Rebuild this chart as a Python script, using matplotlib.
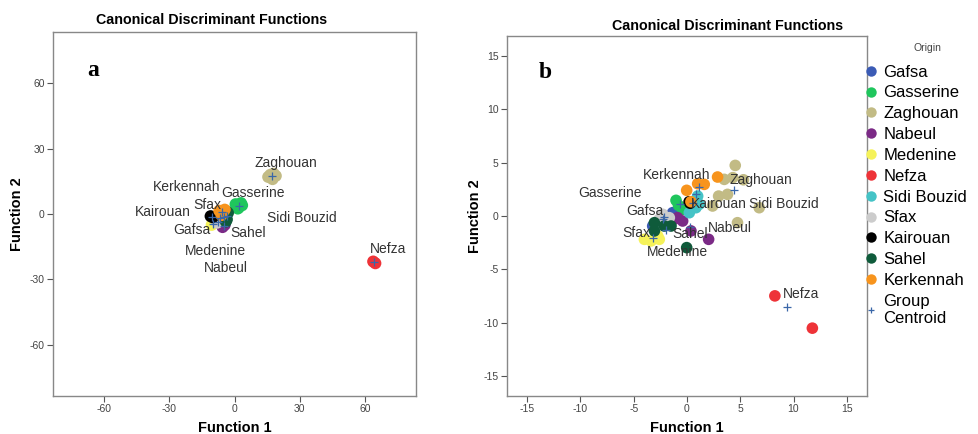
import matplotlib
matplotlib.use("Agg")
from matplotlib import pyplot as plt
from matplotlib.lines import Line2D

plt.rcParams['font.family'] = ['Liberation Sans', 'DejaVu Sans']
plt.rcParams['axes.unicode_minus'] = False

groups = ['Gafsa', 'Gasserine', 'Zaghouan', 'Nabeul', 'Medenine', 'Nefza',
          'Sidi Bouzid', 'Sfax', 'Kairouan', 'Sahel', 'Kerkennah']
colors = ['#3b5bb5', '#1fc65d', '#c2bb85', '#7b2a86', '#f5f25a', '#ee3338',
          '#45c3c6', '#cccccc', '#000000', '#0f5b3b', '#f7941d']
centroid_color = '#3a67a8'

# panel a: scores (function 1, function 2) per origin
a_x = {
    'Gafsa': [-7, -6],
    'Gasserine': [0.5, 2.0, 3.5, 1.5, 3.0],
    'Zaghouan': [15.5, 18.0, 17.5, 19.0, 16.5],
    'Nabeul': [-5.5, -4.5],
    'Medenine': [-10.5, -9.5],
    'Nefza': [63.8, 64.8],
    'Sidi Bouzid': [-6, -4],
    'Sfax': [-8, -7],
    'Kairouan': [-11.0, -10.0],
    'Sahel': [-3.5, -3.0, -4.0, -3.5],
    'Kerkennah': [-7.0, -5.5, -6.0, -4.5],
}
a_y = {
    'Gafsa': [-3, -1],
    'Gasserine': [4.5, 3.0, 4.0, 2.5, 5.0],
    'Zaghouan': [17.0, 18.5, 16.0, 17.5, 18.0],
    'Nabeul': [-6.0, -5.0],
    'Medenine': [-5.0, -4.0],
    'Nefza': [-21.8, -22.6],
    'Sidi Bouzid': [-2, -1],
    'Sfax': [-4, -3],
    'Kairouan': [-1.0, -1.5],
    'Sahel': [-2.5, 0.5, -3.5, 1.0],
    'Kerkennah': [1.5, 0.5, -0.5, 2.0],
}
a_cx = [-6.5, 2.0, 17.3, -5.0, -10.0, 64.3, -5.0, -7.5, -10.5, -3.5, -5.8]
a_cy = [-2.0, 3.8, 17.6, -5.5, -4.5, -22.2, -1.5, -3.5, -1.2, -1.1, 0.9]
a_lab_x = [-28.3, -6.3, 9.4, -14.0, -22.8, 62.3, 14.8, -19.0, -45.7, -1.7, -37.6]
a_lab_y = [-7.3, 9.8, 23.5, -24.9, -17.0, -16.2, -2.0, 4.1, 0.8, -8.6, 12.2]

# panel b
b_x = {
    'Gafsa': [-1.35, -3.22, -2.0],
    'Gasserine': [-1.03, -0.41, -0.8, 0.05],
    'Zaghouan': [4.53, 3.5, 4.3, 5.3, 2.97, 3.8, 2.4, 4.74, 6.78],
    'Nabeul': [-0.88, -0.41, 0.37, 2.03, -1.2],
    'Medenine': [-4.0, -3.37, -2.75, -2.6],
    'Nefza': [8.25, 11.77],
    'Sidi Bouzid': [1.15, 0.22, 0.84, 1.0],
    'Sfax': [-2.28, -1.66, -2.6],
    'Kairouan': [0.2, 0.3],
    'Sahel': [-3.06, -3.06, -2.13, -1.5, -0.03],
    'Kerkennah': [2.87, 1.0, 1.62, -0.03, 0.37],
}
b_y = {
    'Gafsa': [0.31, -0.94, -0.6],
    'Gasserine': [1.47, 0.63, 1.0, 0.8],
    'Zaghouan': [4.75, 3.44, 3.6, 3.4, 1.87, 2.03, 0.94, -0.63, 0.78],
    'Nabeul': [-0.16, -0.47, -1.4, -2.19, -0.3],
    'Medenine': [-2.19, -2.34, -1.87, -2.19],
    'Nefza': [-7.5, -10.53],
    'Sidi Bouzid': [1.1, 0.31, 0.78, 1.87],
    'Sfax': [0.16, -0.16, -0.3],
    'Kairouan': [1.34, 1.2],
    'Sahel': [-0.63, -1.4, -0.94, -0.94, -2.97],
    'Kerkennah': [3.66, 3.03, 2.97, 2.41, 1.34],
}
b_cx = [-2.3, -0.66, 4.43, 0.3, -3.2, 9.43, 0.84, -2.2, 0.53, -2.0, 1.15]
b_cy = [-0.3, 1.16, 2.4, -1.0, -2.1, -8.5, 2.09, -0.1, 1.25, -1.3, 2.72]
b_lab_x = [-5.72, -10.25, 3.96, 1.93, -3.8, 8.96, 5.84, -6.1, 0.37, -1.4, -4.16]
b_lab_y = [0.47, 2.12, 3.37, -1.15, -3.37, -7.28, 1.1, -1.56, 1.1, -1.66, 3.81]

a_ticks = [-60, -30, 0, 30, 60]
b_ticks = [-15, -10, -5, 0, 5, 10, 15]

fig = plt.figure(figsize=(9.79, 4.34), dpi=100)
ax_a = fig.add_axes([53 / 979, 38 / 434, 363 / 979, 364 / 434])
ax_b = fig.add_axes([507 / 979, 38 / 434, 360 / 979, 360 / 434])


def draw_panel(ax, xs, ys, cx, cy, lx, ly, ticks, lim, size, xlab_pos, ylab_pos):
    for g, c in zip(groups, colors):
        ax.scatter(xs[g], ys[g], s=size, color=c, edgecolors='none', zorder=2)
    ax.scatter(cx, cy, marker='+', s=28, color=centroid_color, linewidths=0.9, zorder=3)
    for g, x, y in zip(groups, lx, ly):
        ax.text(x, y, g, fontsize=10, color='#333333', ha='left', va='center', zorder=4)
    ax.set_xlim(-lim, lim)
    ax.set_ylim(-lim, lim)
    ax.set_xticks(ticks)
    ax.set_yticks(ticks)
    ax.tick_params(length=4, width=0.8, color='#555555', labelsize=7.5,
                   labelcolor='#444444', pad=2)
    for s in ax.spines.values():
        s.set_color('#888888')
        s.set_linewidth(1.0)
    ax.set_xlabel('Function 1', fontsize=10.5, fontweight='bold')
    ax.set_ylabel('Function 2', fontsize=10.5, fontweight='bold')
    ax.xaxis.set_label_coords(0.5, xlab_pos)
    ax.yaxis.set_label_coords(ylab_pos, 0.5)
    ax.xaxis.label.set_va('center')
    ax.yaxis.label.set_va('center')


draw_panel(ax_a, a_x, a_y, a_cx, a_cy, a_lab_x, a_lab_y, a_ticks, 83.5, 75, -0.088, -0.099)
draw_panel(ax_b, b_x, b_y, b_cx, b_cy, b_lab_x, b_lab_y, b_ticks, 16.9, 70, -0.089, -0.089)

fig.text(212 / 979, 1 - 20 / 434, 'Canonical Discriminant Functions', fontsize=10.3,
         fontweight='bold', ha='center', va='center')
fig.text(728 / 979, 1 - 26 / 434, 'Canonical Discriminant Functions', fontsize=10.3,
         fontweight='bold', ha='center', va='center')
fig.text(93 / 979, 1 - 70 / 434, 'a', fontsize=17, fontweight='bold',
         family='Liberation Serif', ha='center', va='center')
fig.text(545 / 979, 1 - 73 / 434, 'b', fontsize=17, fontweight='bold',
         family='Liberation Serif', ha='center', va='center')

# legend
fig.text(927 / 979, 1 - 48 / 434, 'Origin', fontsize=7.5, color='#444444',
         ha='center', va='center')
handles = [Line2D([], [], marker='o', ls='none', markersize=7.5, markerfacecolor=c,
                  markeredgecolor='none') for c in colors]
handles.append(Line2D([], [], marker='+', ls='none', markersize=5,
                      color=centroid_color, markeredgewidth=0.9))
labels = groups + ['Group\nCentroid']
leg = fig.legend(handles, labels, loc='upper left', bbox_to_anchor=(864 / 979, 1 - 63 / 434),
                 frameon=False, fontsize=12, handlelength=0.6, handletextpad=0.45,
                 labelspacing=0.35, borderaxespad=0, borderpad=0.1)

fig.savefig('out.png', dpi=100)
